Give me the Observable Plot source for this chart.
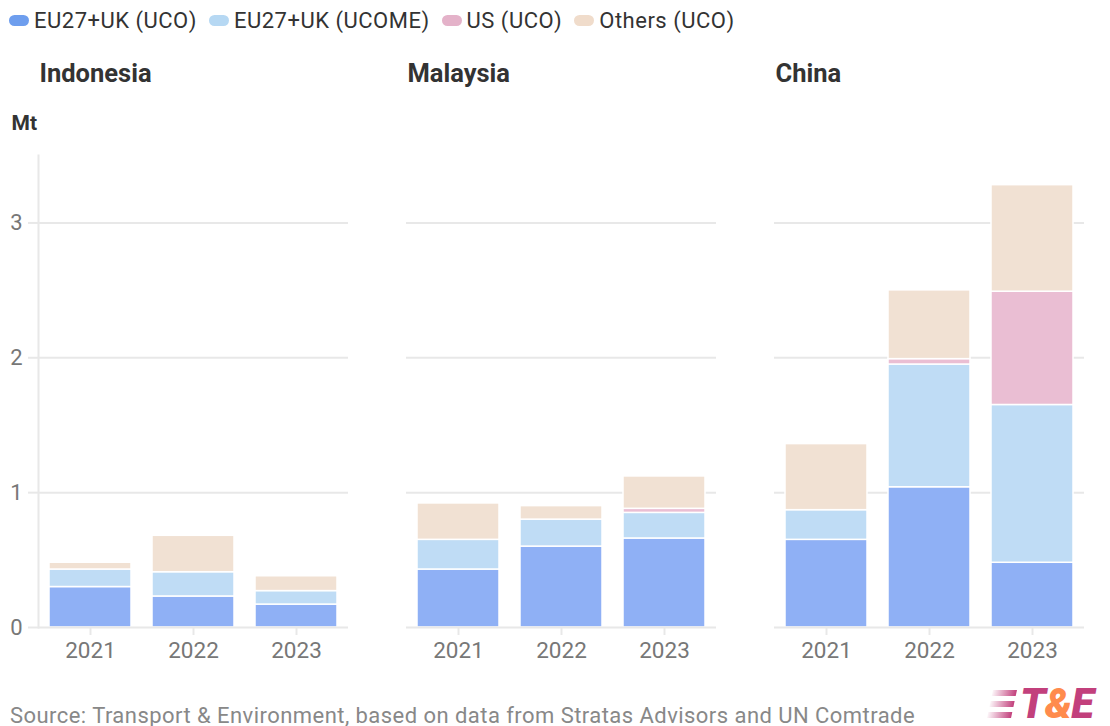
<!DOCTYPE html>
<html>
<head>
<meta charset="utf-8">
<script src="https://cdn.jsdelivr.net/npm/d3@7"></script>
<script src="https://cdn.jsdelivr.net/npm/@observablehq/plot@0.6"></script>
<style>
  html, body { margin: 0; padding: 0; background: #fff; }
  body { width: 1110px; height: 726px; overflow: hidden; position: relative; font-family: Roboto, "Noto Sans", sans-serif; }
  #legend { height: 40px; display: flex; align-items: center; padding-left: 9px; font-size: 22px; letter-spacing: 0.5px; color: #333; }
  #legend .item { display: flex; align-items: center; margin-right: 12px; }
  #legend .sw { width: 20px; height: 11px; border-radius: 6px; margin-right: 5px; }
  #chart svg { display: block; }
  #caption { position: absolute; left: 10px; top: 703px; font-size: 22px; letter-spacing: 0.45px; color: #888; white-space: nowrap; line-height: 26px; }
  #logo { position: absolute; left: 990px; top: 686px; height: 36px; display: flex; align-items: center; }
  #logo .stripes { width: 24px; height: 30px; position: relative; margin-right: 6px; transform: skewX(-12deg); flex: none; }
  #logo .stripes div { position: absolute; left: 0; width: 24px; height: 6px; background: linear-gradient(to right, rgba(194,64,124,0.05), #c2407c); }
  #logo .txt { font-family: Roboto, sans-serif; font-weight: 900; font-style: italic; font-size: 42px; letter-spacing: -1px; color: #c2407c; line-height: 36px; white-space: nowrap; }
  #logo .amp { color: #ff8b4d; }
</style>
</head>
<body>
<div id="legend"></div>
<div id="chart"></div>
<div id="caption">Source: Transport &amp; Environment, based on data from Stratas Advisors and UN Comtrade</div>
<div id="logo"><div class="stripes"><div style="top:1px"></div><div style="top:12px"></div><div style="top:23px"></div></div><div class="txt">T<span class="amp">&amp;</span>E</div></div>
<script>
const countries = ["Indonesia", "Malaysia", "China"];
const years = ["2021", "2022", "2023"];
const series = ["EU27+UK (UCO)", "EU27+UK (UCOME)", "US (UCO)", "Others (UCO)"];
// values ordered: Indonesia 2021-2023, Malaysia 2021-2023, China 2021-2023 (Mt)
const euUco    = [0.30, 0.23, 0.17, 0.43, 0.60, 0.66, 0.65, 1.04, 0.48];
const euUcome  = [0.13, 0.18, 0.10, 0.22, 0.20, 0.19, 0.22, 0.91, 1.17];
const usUco    = [0.00, 0.00, 0.00, 0.00, 0.00, 0.03, 0.00, 0.04, 0.84];
const othersUco = [0.05, 0.27, 0.11, 0.27, 0.10, 0.24, 0.49, 0.51, 0.79];
const yTicks = [0, 1, 2, 3];

const barColors = ["#8fb0f5", "#bfdcf5", "#eabed3", "#f1e1d3"];
const swatchColors = ["#6e9eee", "#b6d8f3", "#e4b2c9", "#f0dccb"];

const seriesValues = [euUco, euUcome, usUco, othersUco];
const data = [];
series.forEach((s, si) => {
  countries.forEach((c, ci) => {
    years.forEach((y, yi) => {
      const v = seriesValues[si][ci * 3 + yi];
      if (v > 0) data.push({country: c, year: y, series: s, value: v});
    });
  });
});

const legend = document.getElementById("legend");
series.forEach((s, i) => {
  const it = document.createElement("div");
  it.className = "item";
  it.innerHTML = `<span class="sw" style="background:${swatchColors[i]}"></span><span>${s}</span>`;
  legend.appendChild(it);
});

const chart = Plot.plot({
  width: 1110,
  height: 663,
  marginLeft: 37,
  marginRight: 24,
  marginTop: 115,
  marginBottom: 76,
  style: {fontFamily: "Roboto, sans-serif", background: "white"},
  fx: {domain: countries, paddingInner: 0.157, paddingOuter: 0, axis: null},
  x: {domain: years, paddingInner: 0.2, paddingOuter: 0.1, axis: null},
  y: {domain: [0, 3.5], axis: null},
  color: {domain: series, range: barColors},
  marks: [
    Plot.gridY(yTicks.slice(1), {stroke: "#e8e8e8", strokeOpacity: 1, strokeWidth: 2}),
    Plot.frame({anchor: "left", facetAnchor: "left", stroke: "#e8e8e8", strokeWidth: 2}),
    Plot.barY(data, {fx: "country", x: "year", y: "value", fill: "series", order: series, stroke: "white", strokeWidth: 1.5}),
    Plot.ruleY([0], {stroke: "#e8e8e8", strokeWidth: 2}),
    Plot.axisY({ticks: yTicks, tickSize: 10, tickPadding: 6, stroke: "#e8e8e8", strokeWidth: 2, fill: "#777", fontSize: 22, label: null, tickFormat: d => String(d)}),
    Plot.axisX({tickSize: 8, tickPadding: 7, stroke: "#e8e8e8", strokeWidth: 2, fill: "#777", fontSize: 22.5, label: null}),
    Plot.text(countries, {fx: d => d, text: d => d, frameAnchor: "top-left", textAnchor: "start", lineAnchor: "middle", dx: 1, dy: -82, fontSize: 25.5, fontWeight: "bold", fill: "#333"}),
    Plot.text(["Mt"], {fx: ["Indonesia"], text: d => d, frameAnchor: "top-left", textAnchor: "start", lineAnchor: "middle", dx: -27, dy: -32, fontSize: 21, fontWeight: "bold", fill: "#333"})
  ]
});
document.getElementById("chart").appendChild(chart);
</script>
</body>
</html>
